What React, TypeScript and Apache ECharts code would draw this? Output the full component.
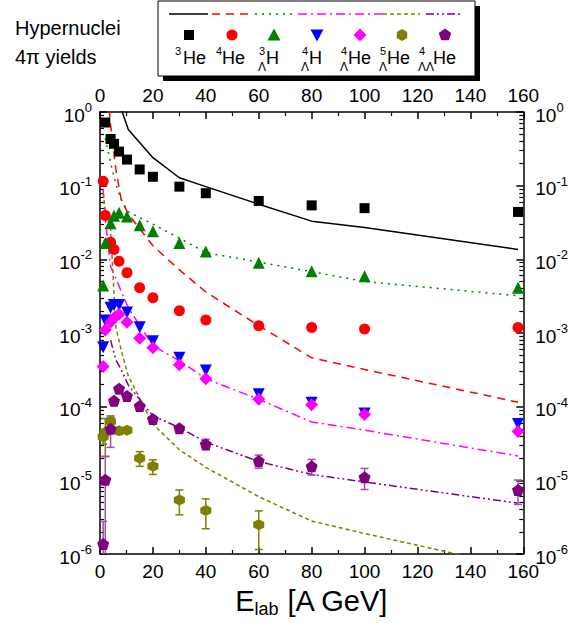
import React, { useEffect, useRef } from 'react';
import * as echarts from 'echarts';

// ---------- data ----------
const dataE = [1.2, 2, 4, 5.3, 7.2, 10.2, 15, 20, 30, 40, 60, 80, 100, 158];
const he3 = [null, 0.72, 0.43, 0.37, 0.29, 0.226, 0.166, 0.132, 0.097, 0.079, 0.062, 0.054, 0.0495, 0.044];
const he4 = [0.115, 0.0395, 0.0171, 0.0136, 0.0094, 0.0066, 0.0041, 0.003, 0.002, 0.0015, 0.00125, 0.00119, 0.00113, 0.00119];
const h3L = [0.0044, 0.0166, 0.031, 0.039, 0.043, 0.038, 0.029, 0.024, 0.0166, 0.0128, 0.009, 0.0069, 0.0059, 0.0041];
const h4L = [0.00064, 0.00148, 0.0022, 0.0024, 0.0024, 0.0019, 0.0012, 0.00077, 0.00046, 0.00031, 0.000147, 0.000113, 0.000081, 0.000058];
const he4L = [0.00035, 0.0011, 0.0014, 0.0016, 0.0018, 0.0014, 0.00085, 0.00063, 0.00037, 0.00024, 0.000126, 0.000106, 0.000078, 0.000046];
const he5L = [3.9e-5, 4.5e-5, 6.3e-5, null, 4.7e-5, 4.8e-5, 2.0e-5, 1.55e-5, 5.4e-6, 3.9e-6, 2.5e-6, 9e-7, null, null];
const he5LErr = [0.8e-5, 2.4e-5, 1.2e-5, null, 0.5e-5, 0.4e-5, 0.45e-5, 0.35e-5, 2e-6, 1.7e-6, 1.35e-6, null, null, null];
const he4LL = [1.37e-6, 1.02e-5, 5.0e-5, 1.2e-4, 1.75e-4, 1.4e-4, 1.02e-4, 6.8e-5, 5.1e-5, 3.1e-5, 1.83e-5, 1.55e-5, 1.1e-5, 7.4e-6];
const he4LLErr = [1.4e-6, 1.1e-5, 2.2e-5, 1.0e-5, 1.2e-5, 1.0e-5, 0.6e-5, 0.4e-5, 0.3e-5, 0.5e-5, 3.7e-6, 3.7e-6, 3.5e-6, 2.7e-6];

// model curves
const modelE = [1.2, 2, 4, 6, 8, 10.7, 20, 30, 40, 60, 80, 100, 158];
const he3Model = [null, null, null, 1.8, 1.1, 0.58, 0.24, 0.128, 0.097, 0.056, 0.033, 0.027, 0.0136];
const he4Model = [null, 4, 0.67, 0.166, 0.065, 0.041, 0.0153, 0.0072, 0.0036, 0.00126, 0.00046, 0.00032, 0.000115];
const h3LModel = [null, 0.44, 0.206, 0.104, 0.065, 0.044, 0.03, 0.0195, 0.0123, 0.0092, 0.0068, 0.005, 0.0032];
const he4LModel = [0.09, 0.035, 0.008, 0.0055, 0.0037, 0.0022, 0.00067, 0.00042, 0.00024, 0.000126, 0.000062, 0.000048, 0.0000214];
const he5LModel = [0.08, 0.045, 0.025, 0.0012, 0.00059, 0.00026, 5.8e-5, 2.6e-5, 1.5e-5, 6e-6, 2.8e-6, 1.9e-6, 6.5e-7];
const he4LLModel = [null, null, 8e-4, 4.3e-4, 3.2e-4, 1.95e-4, 7.5e-5, 5.2e-5, 3.3e-5, 1.8e-5, 1.2e-5, 9.5e-6, 4.9e-6];

const xTicks = { min: 0, max: 160, interval: 20 };
const yRange = { min: 1e-6, max: 1 };

// ---------- helpers ----------
const FONT = 'Liberation Sans, Arial, Helvetica, sans-serif';
const pairs = (xs: number[], ys: (number | null)[]) =>
  xs.map((x, i) => [x, ys[i]]).filter((p) => p[1] != null);
const errRows = (xs: number[], ys: (number | null)[], es: (number | null)[]) =>
  xs
    .map((x, i) => (ys[i] != null && es[i] != null ? [x, (ys[i] as number) - (es[i] as number), (ys[i] as number) + (es[i] as number)] : null))
    .filter((r) => r != null);

const HEX = 'path://M0,-10 L8.66,-5 L8.66,5 L0,10 L-8.66,5 L-8.66,-5 Z';
const PENT = 'path://M0,-10 L9.51,-3.09 L5.88,8.09 L-5.88,8.09 L-9.51,-3.09 Z';

const C = {
  black: '#000000',
  red: '#ff0000',
  green: '#008000',
  blue: '#0000ff',
  magenta: '#ff00ff',
  olive: '#808000',
  purple: '#800080',
};

const scatter = (name: string, ys: (number | null)[], color: string, symbol: string, size: number, extra: any = {}) => ({
  name,
  type: 'scatter',
  xAxisIndex: 0,
  yAxisIndex: 0,
  data: pairs(dataE, ys),
  symbol,
  symbolSize: size,
  itemStyle: { color, opacity: 1 },
  z: 5,
  ...extra,
});

const model = (name: string, ys: (number | null)[], color: string, type: any) => ({
  name,
  type: 'line',
  xAxisIndex: 0,
  yAxisIndex: 0,
  data: pairs(modelE, ys),
  showSymbol: false,
  symbol: 'none',
  clip: true,
  lineStyle: { color, width: 1.5, type },
  z: 3,
});

const errorBars = (name: string, rows: any[], color: string) => ({
  name,
  type: 'custom',
  xAxisIndex: 0,
  yAxisIndex: 0,
  data: rows,
  encode: { x: 0, y: [1, 2] },
  z: 4,
  clip: true,
  renderItem: (params: any, api: any) => {
    const x = api.value(0);
    const lo = api.value(1);
    const hi = api.value(2);
    const minV = yRange.min;
    const top = api.coord([x, hi]);
    const bot = api.coord([x, Math.max(lo, minV)]);
    const style = { stroke: color, lineWidth: 1.5 };
    const children: any[] = [
      { type: 'line', shape: { x1: top[0], y1: top[1], x2: bot[0], y2: bot[1] }, style },
      { type: 'line', shape: { x1: top[0] - 4, y1: top[1], x2: top[0] + 4, y2: top[1] }, style },
    ];
    if (lo > minV) {
      children.push({ type: 'line', shape: { x1: bot[0] - 4, y1: bot[1], x2: bot[0] + 4, y2: bot[1] }, style });
    }
    return { type: 'group', children };
  },
});

const xAxisBase = (position: string, margin: number) => ({
  type: 'value',
  position,
  ...xTicks,
  axisLine: { show: true, onZero: false, lineStyle: { color: '#000', width: 1.5 } },
  axisTick: { show: true, inside: true, length: 7, lineStyle: { color: '#000', width: 1.5 } },
  minorTick: { show: true, splitNumber: 2, length: 4, lineStyle: { color: '#000', width: 1.2 } },
  splitLine: { show: false },
  minorSplitLine: { show: false },
  axisLabel: { color: '#000', fontSize: 19, fontFamily: FONT, margin },
});

const yLabelFormatter = (v: number) => {
  const e = Math.round(Math.log10(v));
  return `{b|10}{s|${e}}`;
};

const yAxisBase = (position: string, margin: number) => ({
  type: 'log',
  logBase: 10,
  position,
  ...yRange,
  splitNumber: 6,
  axisLine: { show: true, onZero: false, lineStyle: { color: '#000', width: 1.5 } },
  axisTick: { show: true, inside: true, length: 7, lineStyle: { color: '#000', width: 1.5 } },
  minorTick: { show: true, splitNumber: 9, length: 4, lineStyle: { color: '#000', width: 1.2 } },
  splitLine: { show: false },
  minorSplitLine: { show: false },
  axisLabel: {
    color: '#000',
    margin,
    padding: [6, 0, 0, 0],
    formatter: yLabelFormatter,
    rich: {
      b: { fontSize: 19, fontFamily: FONT, color: '#000', lineHeight: 28 },
      s: { fontSize: 13, fontFamily: FONT, color: '#000', lineHeight: 13, verticalAlign: 'top' },
    },
  },
});

// ---------- legend drawing (decoration) ----------
const legendLines = [
  { x1: 169, x2: 208, color: C.black, dash: null },
  { x1: 212, x2: 250, color: C.red, dash: [8, 6] },
  { x1: 255, x2: 292, color: C.green, dash: [2, 5] },
  { x1: 298, x2: 383, color: C.magenta, dash: [9, 4, 2, 4] },
  { x1: 383, x2: 420, color: C.olive, dash: [4, 3] },
  { x1: 426, x2: 462, color: C.purple, dash: [8, 3, 2, 3, 2, 3] },
];

const poly = (cx: number, cy: number, pts: number[][], r: number) => pts.map(([a, b]) => [cx + a * r, cy + b * r]);

const legendMarkerY = 35;
const legendMarkers: any[] = [
  { type: 'rect', shape: { x: 184, y: legendMarkerY - 5, width: 10, height: 10 }, style: { fill: C.black } },
  { type: 'circle', shape: { cx: 232, cy: legendMarkerY, r: 5.5 }, style: { fill: C.red } },
  { type: 'polygon', shape: { points: poly(274, legendMarkerY, [[0, -1], [1, 0.85], [-1, 0.85]], 6.5) }, style: { fill: C.green } },
  { type: 'polygon', shape: { points: poly(317, legendMarkerY, [[0, 1], [1, -0.85], [-1, -0.85]], 6.5) }, style: { fill: C.blue } },
  { type: 'polygon', shape: { points: poly(360, legendMarkerY, [[0, -1], [1, 0], [0, 1], [-1, 0]], 6.5) }, style: { fill: C.magenta } },
  { type: 'polygon', shape: { points: poly(402, legendMarkerY, [[0, -1], [0.866, -0.5], [0.866, 0.5], [0, 1], [-0.866, 0.5], [-0.866, -0.5]], 6) }, style: { fill: C.olive } },
  { type: 'polygon', shape: { points: poly(445, legendMarkerY, [[0, -1], [0.951, -0.309], [0.588, 0.809], [-0.588, 0.809], [-0.951, -0.309]], 6.5) }, style: { fill: C.purple } },
];

const txt = (text: string, x: number, y: number, size: number, align = 'left') => ({
  type: 'text',
  x,
  y,
  style: { text, fontSize: size, fontFamily: FONT, fill: '#000', align, verticalAlign: 'middle' },
  z: 100,
});

const labelY = 58;
const supY = 51;
const subY = 67;
const legendLabels: any[] = [
  txt('3', 175, supY, 11), txt('He', 183, labelY, 18),
  txt('4', 216, supY, 11), txt('He', 222, labelY, 18),
  txt('3', 259, supY, 11), txt('Λ', 258, subY, 12), txt('H', 266, labelY, 18),
  txt('4', 302, supY, 11), txt('Λ', 301, subY, 12), txt('H', 309, labelY, 18),
  txt('4', 341, supY, 11), txt('Λ', 340, subY, 12), txt('He', 348, labelY, 18),
  txt('5', 380, supY, 11), txt('Λ', 379, subY, 12), txt('He', 387, labelY, 18),
  txt('4', 419, supY, 11), txt('ΛΛ', 418, subY, 12), txt('He', 433, labelY, 18),
];

const graphic: any[] = [
  txt('Hypernuclei', 15, 28, 20),
  txt('4π yields', 15, 57, 20),
  { type: 'rect', shape: { x: 163, y: 6, width: 317, height: 75 }, style: { fill: '#000' }, z: 90 },
  { type: 'rect', shape: { x: 158, y: 1, width: 317, height: 75 }, style: { fill: '#fff', stroke: '#000', lineWidth: 1 }, z: 91 },
  ...legendLines.map((l) => ({
    type: 'line',
    shape: { x1: l.x1, y1: 14, x2: l.x2, y2: 14 },
    style: { stroke: l.color, lineWidth: 1.5, lineDash: l.dash || undefined },
    z: 95,
  })),
  ...legendMarkers.map((m) => ({ ...m, z: 95 })),
  ...legendLabels,
];

const option: any = {
  animation: false,
  backgroundColor: '#fff',
  textStyle: { fontFamily: FONT },
  grid: { left: 100, right: 46, top: 112, bottom: 65, containLabel: false },
  xAxis: [
    {
      ...xAxisBase('bottom', 8),
      name: '{e|E}{l|lab}{e| [A GeV]}',
      nameLocation: 'middle',
      nameGap: 30,
      nameTextStyle: {
        rich: {
          e: { fontSize: 29, fontFamily: FONT, color: '#000', lineHeight: 34 },
          l: { fontSize: 18, fontFamily: FONT, color: '#000', lineHeight: 18, verticalAlign: 'bottom' },
        },
      },
    },
    xAxisBase('top', 7),
  ],
  yAxis: [yAxisBase('left', 8), yAxisBase('right', 12)],
  graphic,
  series: [
    model('3He model', he3Model, C.black, 'solid'),
    model('4He model', he4Model, C.red, [8, 6]),
    model('3LH model', h3LModel, C.green, [2, 5]),
    model('4LH model', he4LModel, C.magenta, [9, 4, 2, 4]),
    model('5LHe model', he5LModel, C.olive, [4, 3]),
    model('4LLHe model', he4LLModel, C.purple, [8, 3, 2, 3, 2, 3]),
    errorBars('5LHe err', errRows(dataE, he5L, he5LErr), C.olive),
    errorBars('4LLHe err', errRows(dataE, he4LL, he4LLErr), '#a050a8'),
    scatter('3He', he3, C.black, 'rect', 10),
    scatter('4He', he4, C.red, 'circle', 11),
    scatter('3LH', h3L, C.green, 'triangle', 12),
    scatter('4LH', h4L, C.blue, 'triangle', 12, { symbolRotate: 180 }),
    scatter('4LHe', he4L, C.magenta, 'diamond', 13),
    scatter('5LHe', he5L, C.olive, HEX, 11),
    scatter('4LLHe', he4LL, C.purple, PENT, 12),
  ],
};

export default function App() {
  const ref = useRef<HTMLDivElement>(null);
  useEffect(() => {
    if (!ref.current) return;
    const chart = echarts.init(ref.current, null, { renderer: 'svg' });
    chart.setOption(option);
    return () => chart.dispose();
  }, []);
  return <div ref={ref} style={{ position: 'fixed', left: 0, top: 0, width: 571, height: 623, background: '#fff' }} />;
}
